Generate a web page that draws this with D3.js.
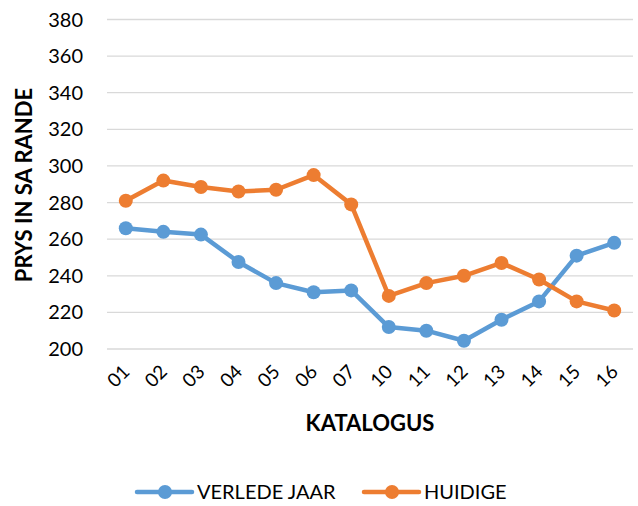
<!DOCTYPE html>
<html lang="af">
<head>
<meta charset="UTF-8">
<title>Prys per katalogus</title>
<script src="https://cdn.jsdelivr.net/npm/d3@7"></script>
<style>
  body { margin: 0; background: #fff; }
  text { font-family: Lato, "Open Sans", sans-serif; fill: #000; }
</style>
</head>
<body>
<div id="chart"></div>
<script>
// data
var katalogus = ["01","02","03","04","05","06","07","10","11","12","13","14","15","16"];
var verledeJaar = [266, 264, 262.5, 247.5, 236, 231, 232, 212, 210, 204.5, 216, 226, 251, 258];
var huidige = [281, 292, 288.5, 286, 287, 295, 279, 229, 236, 240, 247, 238, 226, 221];
var yTicks = [200, 220, 240, 260, 280, 300, 320, 340, 360, 380];

var width = 638, height = 506;
var margin = {top: 19.5, right: 5, bottom: 157, left: 107};

var svg = d3.select("#chart").append("svg")
    .attr("width", width)
    .attr("height", height);

var x = d3.scalePoint()
    .domain(katalogus)
    .range([margin.left, width - margin.right])
    .padding(0.5);

var y = d3.scaleLinear()
    .domain([200, 380])
    .range([height - margin.bottom, margin.top]);

// grid lines
svg.append("g")
    .selectAll("line")
    .data(yTicks)
    .enter().append("line")
    .attr("x1", margin.left)
    .attr("x2", width - margin.right)
    .attr("y1", function(d){ return y(d); })
    .attr("y2", function(d){ return y(d); })
    .attr("stroke", "#d9d9d9")
    .attr("stroke-width", 1.3);

// y tick labels
svg.append("g")
    .selectAll("text")
    .data(yTicks)
    .enter().append("text")
    .attr("x", 83)
    .attr("y", function(d){ return y(d); })
    .attr("dy", "0.35em")
    .attr("text-anchor", "end")
    .style("font-size", "20px")
    .text(function(d){ return d; });

// x tick labels, rotated
svg.append("g")
    .selectAll("text")
    .data(katalogus)
    .enter().append("text")
    .attr("transform", function(d){
        return "translate(" + (x(d) + 5) + "," + 373 + ") rotate(-45)";
    })
    .attr("text-anchor", "end")
    .style("font-size", "19px")
    .text(function(d){ return d; });

// axis titles
svg.append("text")
    .attr("transform", "translate(32," + 185 + ") rotate(-90)")
    .attr("text-anchor", "middle")
    .style("font-size", "22px")
    .style("font-weight", "bold")
    .text("PRYS IN SA RANDE");

svg.append("text")
    .attr("x", 370)
    .attr("y", 431)
    .attr("text-anchor", "middle")
    .style("font-size", "22px")
    .style("font-weight", "bold")
    .text("KATALOGUS");

var series = [
    {name: "VERLEDE JAAR", values: verledeJaar, color: "#5b9bd5"},
    {name: "HUIDIGE", values: huidige, color: "#ed7d31"}
];

var line = d3.line()
    .x(function(d, i){ return x(katalogus[i]); })
    .y(function(d){ return y(d); });

series.forEach(function(s){
    var g = svg.append("g");
    g.append("path")
        .datum(s.values)
        .attr("d", line)
        .attr("fill", "none")
        .attr("stroke", s.color)
        .attr("stroke-width", 4.5)
        .attr("stroke-linejoin", "round");
    g.selectAll("circle")
        .data(s.values)
        .enter().append("circle")
        .attr("cx", function(d, i){ return x(katalogus[i]); })
        .attr("cy", function(d){ return y(d); })
        .attr("r", 7)
        .attr("fill", s.color);
});

// legend
var legendX = [137, 364];
var legend = svg.append("g")
    .selectAll("g")
    .data(series)
    .enter().append("g")
    .attr("transform", function(d, i){ return "translate(" + legendX[i] + ",492)"; });

legend.append("line")
    .attr("x1", 0).attr("x2", 55)
    .attr("stroke", function(d){ return d.color; })
    .attr("stroke-width", 4.5)
    .attr("stroke-linecap", "round");
legend.append("circle")
    .attr("cx", 28).attr("r", 7)
    .attr("fill", function(d){ return d.color; });
legend.append("text")
    .attr("x", 60)
    .attr("dy", "0.35em")
    .style("font-size", "20px")
    .text(function(d){ return d.name; });
</script>
</body>
</html>
